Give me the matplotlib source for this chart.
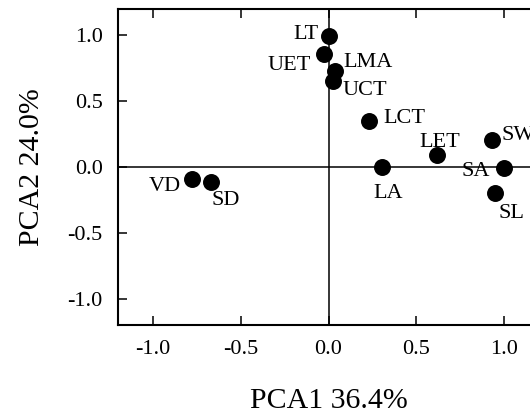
import matplotlib
matplotlib.use("Agg")
import matplotlib.pyplot as plt

plt.rcParams['font.family'] = ['Liberation Serif', 'DejaVu Serif']
plt.rcParams['axes.unicode_minus'] = False

# PCA loadings
labels = ['LT', 'UET', 'LMA', 'UCT', 'LCT', 'LET', 'LA', 'SW', 'SA', 'SL', 'VD', 'SD']
pc1 = [0.0, -0.025, 0.036, 0.023, 0.233, 0.617, 0.307, 0.932, 1.0, 0.949, -0.779, -0.671]
pc2 = [0.995, 0.856, 0.73, 0.65, 0.35, 0.089, 0.0, 0.208, -0.005, -0.198, -0.091, -0.114]

# label offsets in pixels and alignment
offsets = {
    'LT': (-10, 1, 'right'), 'UET': (-13, -11, 'right'), 'LMA': (9, 8, 'left'),
    'UCT': (10, -9, 'left'), 'LCT': (14, 2, 'left'), 'LET': (3, 13, 'center'),
    'LA': (6, -26, 'center'), 'SW': (10, 4, 'left'), 'SA': (-14, -4, 'right'),
    'SL': (4, -20, 'left'), 'VD': (-11, -8, 'right'), 'SD': (1, -18, 'left'),
}

fig = plt.figure(figsize=(5.3, 4.19), dpi=100)
ax = fig.add_axes([118 / 530, 94 / 419, 421 / 530, 316 / 419])

ax.axhline(0, color='black', lw=1.1, zorder=1)
ax.axvline(0, color='black', lw=1.1, zorder=1)
ax.scatter(pc1, pc2, s=125, color='black', zorder=3)

for name, x, y in zip(labels, pc1, pc2):
    dx, dy, ha = offsets[name]
    ax.annotate(name, (x, y), xytext=(dx, dy), textcoords='offset pixels',
                ha=ha, va='center', fontsize=16)

ax.set_xlim(-1.2, 1.2)
ax.set_ylim(-1.2, 1.2)
ax.set_xticks([-1.0, -0.5, 0.0, 0.5, 1.0])
ax.set_yticks([-1.0, -0.5, 0.0, 0.5, 1.0])
ax.tick_params(direction='in', length=6.5, width=1.1, top=True, right=True,
               labelsize=16, pad=11)
for sp in ax.spines.values():
    sp.set_linewidth(1.5)

ax.set_xlabel('PCA1 36.4%', fontsize=21.5, labelpad=21)
ax.set_ylabel('PCA2 24.0%', fontsize=21.5, labelpad=16)

fig.savefig('out.png', dpi=100)
